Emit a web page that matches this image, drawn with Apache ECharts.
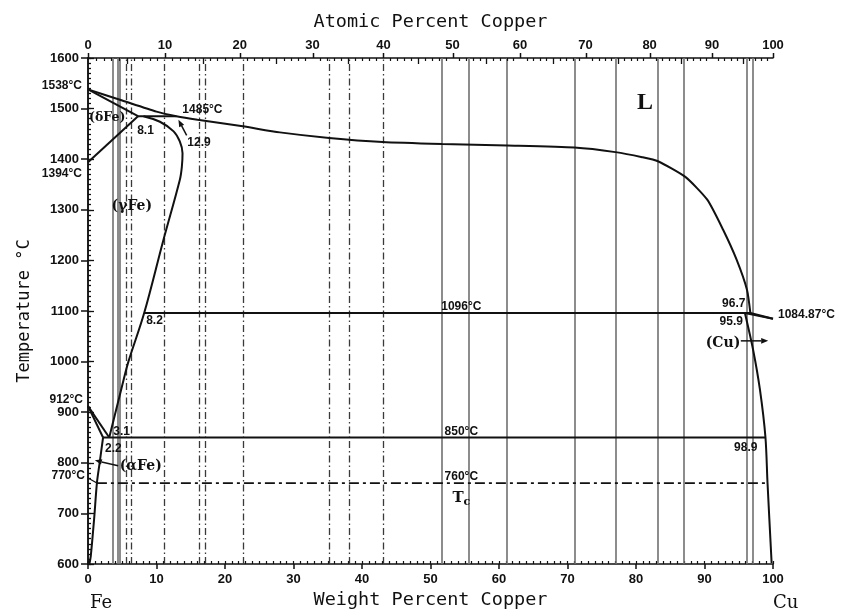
<!DOCTYPE html>
<html>
<head>
<meta charset="utf-8">
<script src="https://cdn.jsdelivr.net/npm/echarts@6/dist/echarts.min.js"></script>
<style>
html,body{margin:0;padding:0;background:#ffffff;}
#chart{width:855px;height:609px;}
</style>
</head>
<body>
<div id="chart"></div>
<script>
// Fe–Cu binary phase diagram: temperature (°C) against weight percent copper,
// with an atomic-percent scale along the top.

// ---- axis values ----
const weightTickLabels = [0, 10, 20, 30, 40, 50, 60, 70, 80, 90, 100];
const tempTickLabels = [600, 700, 800, 900, 1000, 1100, 1200, 1300, 1400, 1500, 1600];
const atomicTickLabels = [0, 10, 20, 30, 40, 50, 60, 70, 80, 90, 100];
const M_FE = 55.845, M_CU = 63.546;

// ---- phase boundaries: [wt% Cu, °C] ----
const liquidus = [[0,1538],[5,1516],[10,1494],[12.9,1485],[16,1478],[22.6,1465],[28,1453],[35.2,1442],[43,1434],[51.7,1430],[61.2,1427],[71,1423],[77,1414],[80.9,1404],[83.2,1396],[87.2,1365],[90.4,1320],[92.7,1261],[94.7,1201],[96.2,1142],[96.7,1096]];
const deltaSolidus = [[0,1538],[7.3,1485]];
const deltaGamma = [[0,1394],[7.3,1485]];
const peritecticFe = [[7.3,1485],[12.9,1485]];
const gammaBoundary = [[8.1,1485],[10.5,1474],[12.5,1455],[13.4,1435],[13.8,1412],[13.7,1385],[13.4,1359],[11.0,1240],[8.2,1096],[5.9,1000],[5.2,964],[3.1,850]];
const gammaAlphaHigh = [[0,912],[3.1,850]];
const gammaAlphaLow = [[0,912],[2.2,850]];
const alphaSolvus = [[2.2,850],[1.7,800],[1.3,760],[0.9,690],[0.4,615],[0.2,600]];
const peritecticCu = [[8.2,1096],[96.7,1096]];
const cuLiquidus = [[96.7,1096],[100,1084.87]];
const cuSolidus = [[95.9,1096],[100,1084.87]];
const cuSolvus = [[95.9,1096],[97.1,1023],[98.1,944],[98.9,850],[99.2,760],[99.8,602]];
const eutectoid = [[2.2,850],[98.9,850]];
const curieLine = [[1.3,760],[99.1,760]];
const curieLeader = [[0,770],[1.3,760]];

// ---- composition guides (wt% Cu) ----
const solidGuides = [3.65, 4.35, 4.65, 51.7, 55.6, 61.2, 71.1, 77.1, 83.2, 87.0, 96.1, 97.1];
const dashGuides = [5.55, 6.3, 11.1, 16.2, 17.1, 22.6, 35.2, 38.1, 43.1];

// ---- annotations ----
const annotations = [
  {text: '1538°C', at: [0, 1538], dx: -6, dy: -4, align: 'right', kind: 'num'},
  {text: '1394°C', at: [0, 1394], dx: -6, dy: 11, align: 'right', kind: 'num'},
  {text: '912°C', at: [0, 912], dx: -5, dy: -6, align: 'right', kind: 'num'},
  {text: '770°C', at: [0, 770], dx: -3, dy: -2, align: 'right', kind: 'num'},
  {text: '1084.87°C', at: [100, 1084.87], dx: 5, dy: -4, align: 'left', kind: 'num'},
  {text: '(δFe)', at: [2.8, 1481], dx: 0, dy: 0, align: 'center', kind: 'phaseSmall'},
  {text: '8.1', at: [8.1, 1485], dx: 2, dy: 14, align: 'center', kind: 'num'},
  {text: '1485°C', at: [12.9, 1485], dx: 6, dy: -7, align: 'left', kind: 'num'},
  {text: '12.9', at: [12.9, 1485], dx: 11, dy: 26, align: 'left', kind: 'num'},
  {text: '(γFe)', at: [6.4, 1306], dx: 0, dy: 0, align: 'center', kind: 'phase'},
  {text: '8.2', at: [8.2, 1096], dx: 2, dy: 8, align: 'left', kind: 'num'},
  {text: '3.1', at: [3.1, 850], dx: 4, dy: -6, align: 'left', kind: 'num'},
  {text: '2.2', at: [2.2, 850], dx: 2, dy: 11, align: 'left', kind: 'num'},
  {text: '(αFe)', at: [7.7, 792], dx: 0, dy: 0, align: 'center', kind: 'phase'},
  {text: '1096°C', at: [54.5, 1096], dx: 0, dy: -6, align: 'center', kind: 'num'},
  {text: '850°C', at: [54.5, 850], dx: 0, dy: -6, align: 'center', kind: 'num'},
  {text: '760°C', at: [54.5, 760], dx: 0, dy: -6, align: 'center', kind: 'num'},
  {text: '{t|T}{s|c}', at: [54.5, 760], dx: 0, dy: 15, align: 'center', kind: 'tc'},
  {text: 'L', at: [81.3, 1511], dx: 0, dy: 0, align: 'center', kind: 'big'},
  {text: '96.7', at: [96.7, 1096], dx: -5, dy: -9, align: 'right', kind: 'num'},
  {text: '95.9', at: [95.9, 1096], dx: -2, dy: 9, align: 'right', kind: 'num'},
  {text: '(Cu)', at: [92.7, 1037], dx: 0, dy: 0, align: 'center', kind: 'phase'},
  {text: '98.9', at: [98.9, 850], dx: -8, dy: 10, align: 'right', kind: 'num'},
  {text: 'Fe', at: [0, 600], dx: 2, dy: 39, align: 'left', kind: 'elem'},
  {text: 'Cu', at: [100, 600], dx: 0, dy: 39, align: 'left', kind: 'elem'}
];
// arrows: [tail wt, tail °C, tip wt, tip °C]
const arrows = [
  [14.4, 1447, 13.2, 1478],
  [4.4, 794, 1.0, 805],
  [95.3, 1041, 99.3, 1041]
];

const BLACK = '#111111';
const fonts = {
  num: 'bold 12px "Liberation Sans", Arial, sans-serif',
  phase: 'bold 14px "DejaVu Serif", serif',
  phaseSmall: 'bold 12.5px "DejaVu Serif", serif',
  big: 'bold 24px "Liberation Serif", serif',
  elem: '18px "DejaVu Serif", serif'
};
const tickFont = {fontFamily: '"Liberation Sans", Arial, sans-serif', fontWeight: 'bold', fontSize: 13, color: BLACK};
const titleFont = {fontFamily: '"DejaVu Sans Mono", monospace', fontSize: 18.5, color: BLACK};

function atomicToWeight(a) {
  return 100 * a * M_CU / (a * M_CU + (100 - a) * M_FE);
}

function boundary(data, extra) {
  return Object.assign({
    type: 'line', data: data, symbol: 'none', silent: true, animation: false,
    xAxisIndex: 0, yAxisIndex: 0, clip: false, z: 5,
    lineStyle: {color: BLACK, width: 2}
  }, extra || {});
}

// top scale: atomic percent ticks, every 1 at.% with labels every 10
const atomicMinor = [];
for (let a = 0; a <= 100; a++) atomicMinor.push(a);

const series = [
  // guide lines
  {
    type: 'line', data: [], silent: true, animation: false, xAxisIndex: 0, yAxisIndex: 0,
    markLine: {
      silent: true, symbol: 'none', animation: false, label: {show: false},
      lineStyle: {color: '#707070', width: 1.6, type: 'solid'},
      data: solidGuides.map(v => ({xAxis: v}))
    }
  },
  {
    type: 'line', data: [], silent: true, animation: false, xAxisIndex: 0, yAxisIndex: 0,
    markLine: {
      silent: true, symbol: 'none', animation: false, label: {show: false},
      lineStyle: {color: '#3a3a3a', width: 1.3, type: [7, 3, 1.5, 3]},
      data: dashGuides.map(v => ({xAxis: v}))
    }
  },
  boundary(liquidus, {smooth: 0.2}),
  boundary(deltaSolidus),
  boundary(deltaGamma),
  boundary(peritecticFe),
  boundary(gammaBoundary, {smooth: 0.35}),
  boundary(gammaAlphaHigh),
  boundary(gammaAlphaLow),
  boundary(alphaSolvus, {smooth: 0.3}),
  boundary(peritecticCu),
  boundary(cuLiquidus),
  boundary(cuSolidus),
  boundary(cuSolvus, {smooth: 0.3}),
  boundary(eutectoid),
  boundary(curieLine, {lineStyle: {color: BLACK, width: 1.8, type: [10, 4, 3, 4]}}),
  boundary(curieLeader, {lineStyle: {color: BLACK, width: 1.3}}),
  // atomic percent scale along the top edge
  {
    type: 'custom', xAxisIndex: 0, yAxisIndex: 0, silent: true, animation: false, clip: false, z: 6,
    data: atomicMinor,
    renderItem: function (params, api) {
      const a = atomicMinor[params.dataIndex];
      const p = api.coord([atomicToWeight(a), 1600]);
      const x = Math.round(p[0]) + 0.5;
      const y = p[1];
      const children = [];
      if (atomicTickLabels.indexOf(a) >= 0) {
        children.push({type: 'line', shape: {x1: x, y1: y, x2: x, y2: y - 5}, style: {stroke: BLACK, lineWidth: 1.5}});
        children.push({type: 'text', x: p[0], y: y - 13, style: {text: String(a), font: 'bold 13px "Liberation Sans", Arial, sans-serif', fill: BLACK, align: 'center', verticalAlign: 'middle'}});
      } else if (a % 5 === 0) {
        children.push({type: 'line', shape: {x1: x, y1: y, x2: x, y2: y + 6}, style: {stroke: BLACK, lineWidth: 1.3}});
      } else {
        children.push({type: 'line', shape: {x1: x, y1: y, x2: x, y2: y + 3}, style: {stroke: BLACK, lineWidth: 1.2}});
      }
      return {type: 'group', children: children};
    }
  },
  // text annotations
  {
    type: 'custom', xAxisIndex: 0, yAxisIndex: 0, silent: true, animation: false, clip: false, z: 8,
    data: annotations.map(a => a.at),
    renderItem: function (params, api) {
      const a = annotations[params.dataIndex];
      const p = api.coord([api.value(0), api.value(1)]);
      const style = {text: a.text, fill: BLACK, align: a.align, verticalAlign: 'middle'};
      if (a.kind === 'tc') {
        style.rich = {
          t: {font: 'bold 15px "DejaVu Serif", serif', fill: BLACK},
          s: {font: 'bold 11px "DejaVu Serif", serif', fill: BLACK, padding: [8, 0, 0, 0]}
        };
        style.font = 'bold 15px "DejaVu Serif", serif';
      } else {
        style.font = fonts[a.kind];
      }
      return {type: 'text', x: p[0] + a.dx, y: p[1] + a.dy, style: style};
    }
  },
  // arrows
  {
    type: 'custom', xAxisIndex: 0, yAxisIndex: 0, silent: true, animation: false, clip: false, z: 8,
    data: arrows,
    renderItem: function (params, api) {
      const t = api.coord([api.value(0), api.value(1)]);
      const h = api.coord([api.value(2), api.value(3)]);
      const ang = Math.atan2(h[1] - t[1], h[0] - t[0]);
      const L = 7, W = 2.8;
      const bx = h[0] - L * Math.cos(ang), by = h[1] - L * Math.sin(ang);
      const nx = -Math.sin(ang) * W, ny = Math.cos(ang) * W;
      return {
        type: 'group', children: [
          {type: 'line', shape: {x1: t[0], y1: t[1], x2: bx, y2: by}, style: {stroke: BLACK, lineWidth: 1.5}},
          {type: 'polygon', shape: {points: [[h[0], h[1]], [bx + nx, by + ny], [bx - nx, by - ny]]}, style: {fill: BLACK}}
        ]
      };
    }
  }
];

const chart = echarts.init(document.getElementById('chart'), null, {renderer: 'canvas'});
chart.setOption({
  animation: false,
  backgroundColor: '#ffffff',
  grid: {left: 88, right: 82, top: 58, bottom: 45, containLabel: false, outerBoundsMode: 'none'},
  xAxis: [
    {
      type: 'value', position: 'bottom', min: 0, max: 100, interval: 10,
      axisLine: {show: true, lineStyle: {color: BLACK, width: 1.5}},
      axisTick: {show: true, inside: false, length: 5, lineStyle: {color: BLACK, width: 1.5}},
      axisLabel: Object.assign({margin: 9, formatter: v => weightTickLabels.indexOf(v) >= 0 ? String(v) : ''}, tickFont),
      splitLine: {show: false},
      name: 'Weight Percent Copper', nameLocation: 'middle', nameGap: 25,
      nameTextStyle: titleFont
    },
    {
      type: 'value', position: 'bottom', min: 0, max: 100, interval: 1,
      axisLine: {show: false}, axisLabel: {show: false}, splitLine: {show: false},
      axisTick: {show: true, inside: true, length: 3, lineStyle: {color: BLACK, width: 1.2}}
    },
    {
      type: 'value', position: 'top', min: 0, max: 100, interval: 10,
      axisLine: {show: true, lineStyle: {color: BLACK, width: 1.5}},
      axisTick: {show: false}, axisLabel: {show: false}, splitLine: {show: false},
      name: 'Atomic Percent Copper', nameLocation: 'middle', nameGap: 26,
      nameTextStyle: titleFont
    }
  ],
  yAxis: [
    {
      type: 'value', position: 'left', min: 600, max: 1600, interval: 100,
      axisLine: {show: true, lineStyle: {color: BLACK, width: 1.5}},
      axisTick: {show: true, inside: false, length: 7, lineStyle: {color: BLACK, width: 1.5}},
      axisLabel: Object.assign({margin: 9, formatter: v => tempTickLabels.indexOf(v) >= 0 ? String(v) : ''}, tickFont),
      splitLine: {show: false},
      name: 'Temperature °C', nameLocation: 'middle', nameGap: 55, nameRotate: 90,
      nameTextStyle: Object.assign({}, titleFont, {fontSize: 17})
    },
    {
      type: 'value', position: 'left', min: 600, max: 1600, interval: 10,
      axisLine: {show: false}, axisLabel: {show: false}, splitLine: {show: false},
      axisTick: {show: true, inside: true, length: 3, lineStyle: {color: BLACK, width: 1.2}}
    },
    {
      type: 'value', position: 'right', min: 600, max: 1600, interval: 100,
      axisLine: {show: true, lineStyle: {color: BLACK, width: 1.5}},
      axisTick: {show: true, inside: false, length: 6, lineStyle: {color: BLACK, width: 1.3}},
      minorTick: {show: true, splitNumber: 10, length: 3, lineStyle: {color: BLACK, width: 1.1}},
      axisLabel: {show: false}, splitLine: {show: false}
    }
  ],
  series: series
});
</script>
</body>
</html>
